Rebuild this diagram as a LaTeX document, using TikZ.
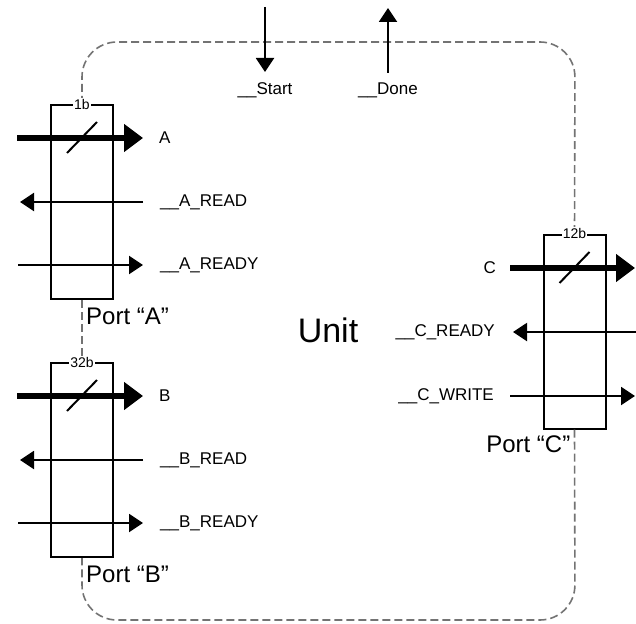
\documentclass[tikz,border=0pt]{standalone}
\usepackage{fontspec}
\setmainfont{Liberation Sans}
\usetikzlibrary{arrows.meta, positioning}

\tikzset{
  portbox/.style={draw, line width=2pt, minimum width=62pt, minimum height=194pt, inner sep=0pt},
  bus/.style={line width=6pt, -{Triangle[length=19pt,width=27pt]}},
  wire/.style={line width=2pt, -{Triangle[length=14pt,width=18pt]}},
  slash/.style={line width=2pt},
  boundary/.style={draw=black!55, line width=1.6pt, dash pattern=on 8pt off 4pt, rounded corners=35pt},
  sig/.style={font=\fontsize{17}{19}\selectfont, inner sep=0pt},
  bits/.style={font=\fontsize{14}{15}\selectfont, fill=white, inner sep=1pt},
  portname/.style={font=\fontsize{24}{26}\selectfont, inner sep=0pt},
}

\begin{document}
\begin{tikzpicture}[x=1pt, y=-1pt]
  \useasboundingbox (0,0) rectangle (636,623);

  \node[portbox] (portA) at (82,202) {};
  \node[portbox] (portB) at (82,460) {};
  \node[portbox] (portC) at (574.5,331.5) {};

  \draw[boundary] (portA.north) -- (82,42) -- (575,42) -- (portC.north);
  \draw[boundary] (portC.south) -- (575,620) -- (82,620) -- (portB.south);
  \draw[boundary] (portA.south) -- (portB.north);

  \node[bits] at (portA.north) {1b};
  \node[bits] at (portB.north) {32b};
  \node[bits] at (portC.north) {12b};

  \node[portname, anchor=west] at ([xshift=4pt, yshift=-16pt]portA.south) {Port “A”};
  \node[portname, anchor=west] at ([xshift=4pt, yshift=-16pt]portB.south) {Port “B”};
  \node[portname, anchor=east] at ([xshift=-4pt, yshift=-15pt]portC.south) {Port “C”};

  \node[font=\fontsize{34}{36}\selectfont] (unit) at (328,330) {Unit};

  \coordinate (stIn) at (265,7);
  \coordinate (stOut) at (265,72);
  \draw[wire] (stIn) -- (stOut);
  \node[sig, below=10pt of stOut] (start) {\_\_Start};
  \coordinate (dnIn) at (388,73);
  \coordinate (dnOut) at (388,8);
  \draw[wire] (dnIn) -- (dnOut);
  \node[sig, below=10pt of dnIn] (done) {\_\_Done};

  \coordinate (aIn) at (17,138);
  \coordinate (aOut) at (143,138);
  \draw[bus] (aIn) -- (aOut);
  \draw[slash] (portA.center |- aOut) ++(-15,15) -- ++(30,-31);
  \node[sig, right=16pt of aOut] (a) {A};
  \coordinate (arIn) at (143,202);
  \coordinate (arOut) at (20,202);
  \draw[wire] (arIn) -- (arOut);
  \node[sig, right=17pt of arIn] (aread) {\_\_A\_READ};
  \coordinate (ayIn) at (18,265);
  \coordinate (ayOut) at (143,265);
  \draw[wire] (ayIn) -- (ayOut);
  \node[sig, right=17pt of ayOut] (aready) {\_\_A\_READY};

  \coordinate (bIn) at (17,396);
  \coordinate (bOut) at (143,396);
  \draw[bus] (bIn) -- (bOut);
  \draw[slash] (portB.center |- bOut) ++(-15,15) -- ++(30,-31);
  \node[sig, right=16pt of bOut] (b) {B};
  \coordinate (brIn) at (143,460);
  \coordinate (brOut) at (20,460);
  \draw[wire] (brIn) -- (brOut);
  \node[sig, right=17pt of brIn] (bread) {\_\_B\_READ};
  \coordinate (byIn) at (18,523);
  \coordinate (byOut) at (143,523);
  \draw[wire] (byIn) -- (byOut);
  \node[sig, right=17pt of byOut] (bready) {\_\_B\_READY};

  \coordinate (cIn) at (510,268);
  \coordinate (cOut) at (635,268);
  \draw[bus] (cIn) -- (cOut);
  \draw[slash] (portC.center |- cOut) ++(-15,15) -- ++(30,-31);
  \node[sig, left=14pt of cIn] (c) {C};
  \coordinate (crIn) at (636,332);
  \coordinate (crOut) at (513,332);
  \draw[wire] (crIn) -- (crOut);
  \node[sig, left=18pt of crOut] (cready) {\_\_C\_READY};
  \coordinate (cwIn) at (510,396);
  \coordinate (cwOut) at (635,396);
  \draw[wire] (cwIn) -- (cwOut);
  \node[sig, left=16pt of cwIn] (cwrite) {\_\_C\_WRITE};
\end{tikzpicture}
\end{document}
